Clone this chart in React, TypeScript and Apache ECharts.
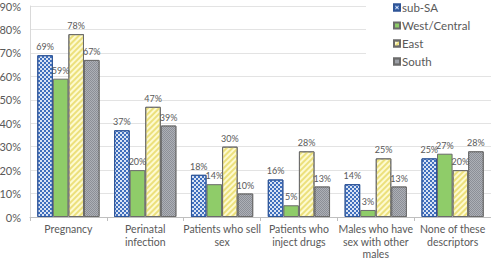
import React, { useEffect, useRef } from "react";
import * as echarts from "echarts";

const categories = [
  "Pregnancy",
  "Perinatal\ninfection",
  "Patients who sell\nsex",
  "Patients who\ninject drugs",
  "Males who have\nsex with other\nmales",
  "None of these\ndescriptors",
];
const seriesNames = ["sub-SA", "West/Central", "East", "South"];
const subSA = [69, 37, 18, 16, 14, 25];
const westCentral = [59, 20, 14, 5, 3, 27];
const east = [78, 47, 30, 28, 25, 20];
const south = [67, 39, 10, 13, 13, 28];
const yTicks = [0, 10, 20, 30, 40, 50, 60, 70, 80, 90];

const FONT = "Lato, 'Open Sans', sans-serif";
const TEXT = "#595959";

export default function App() {
  const ref = useRef<HTMLDivElement>(null);
  useEffect(() => {
    if (!ref.current) return;
    const chart = echarts.init(ref.current, undefined, { renderer: "svg" });
    const styles = [
      {
        color: "#d9e3f4",
        borderColor: "#2f5597",
        borderWidth: 1,
        decal: {
          symbol: "rect",
          symbolSize: 1,
          color: "#3f6fbd",
          dashArrayX: [[2, 2], [0, 2, 2, 0]],
          dashArrayY: [2, 0],
        },
      },
      { color: "#8fcc69", borderColor: "#6b6b6b", borderWidth: 1 },
      {
        color: "#fdfad0",
        borderColor: "#6b6b6b",
        borderWidth: 1,
        decal: {
          symbol: "rect",
          symbolSize: 1,
          color: "#ece07c",
          rotation: -Math.PI / 4,
          dashArrayX: [1, 0],
          dashArrayY: [1.5, 2],
        },
      },
      {
        color: "#8c8f97",
        borderColor: "#6b6b6b",
        borderWidth: 1,
        decal: {
          symbol: "rect",
          symbolSize: 1,
          color: "#adb0b6",
          dashArrayX: [[1, 1], [0, 1, 1, 0]],
          dashArrayY: [1, 0],
        },
      },
    ];
    const data = [subSA, westCentral, east, south];
    chart.setOption({
      animation: false,
      textStyle: { fontFamily: FONT },
      grid: { left: 30, right: 0, top: 6, bottom: 42, containLabel: false, outerBoundsMode: "none" },
      graphic: [
        {
          type: "rect",
          z: 5,
          shape: { x: 366, y: 0, width: 125, height: 66 },
          style: { fill: "#ffffff" },
        },
      ],
      legend: {
        orient: "vertical",
        left: 393,
        top: 1,
        z: 10,
        itemWidth: 6,
        itemHeight: 6,
        itemGap: 5,
        icon: "rect",
        padding: 0,
        textStyle: { color: TEXT, fontSize: 11.5, fontFamily: FONT, padding: [0, 0, 0, -3], lineHeight: 13 },
        data: seriesNames,
      },
      xAxis: {
        type: "category",
        data: categories,
        axisLine: { lineStyle: { color: "#bfbfbf" } },
        axisTick: { show: true, length: 4, lineStyle: { color: "#bfbfbf" } },
        axisLabel: { color: TEXT, fontSize: 10.5, lineHeight: 12.5, margin: 6, interval: 0, fontFamily: FONT },
      },
      yAxis: {
        type: "value",
        min: 0,
        max: yTicks[yTicks.length - 1],
        interval: 10,
        axisLine: { show: true, lineStyle: { color: "#d9d9d9" } },
        axisTick: { show: false },
        splitLine: { lineStyle: { color: "#e3e3e3" } },
        axisLabel: { color: TEXT, fontSize: 11, margin: 9, formatter: "{value}%", fontFamily: FONT },
      },
      series: seriesNames.map((name, i) => ({
        name,
        type: "bar",
        data: data[i],
        barGap: "0%",
        barCategoryGap: "19%",
        itemStyle: styles[i],
        label: {
          show: true,
          position: "top",
          distance: 4,
          formatter: "{c}%",
          color: TEXT,
          fontSize: 9,
          fontFamily: FONT,
        },
      })),
    });
    return () => chart.dispose();
  }, []);
  return (
    <div
      ref={ref}
      style={{ position: "fixed", left: 0, top: 0, width: 491, height: 259, background: "#fff" }}
    />
  );
}
